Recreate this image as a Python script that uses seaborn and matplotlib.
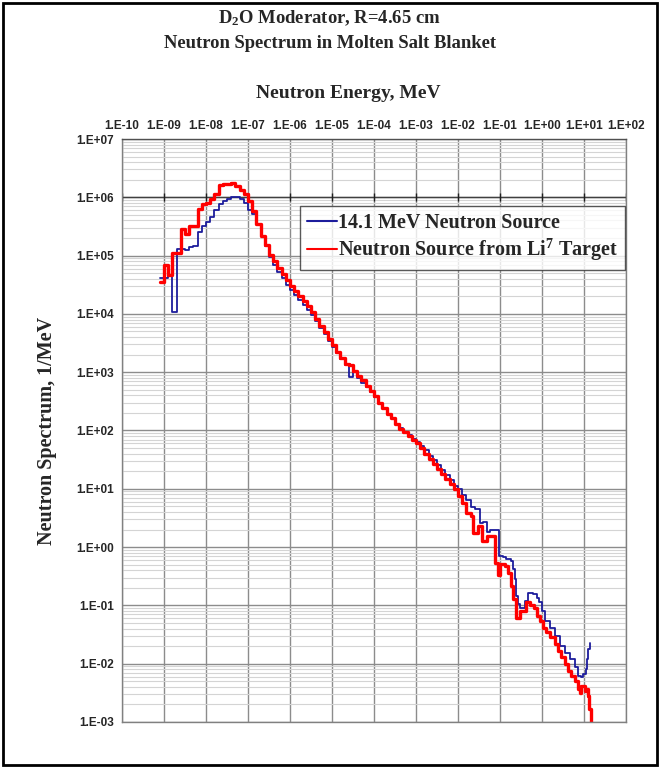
import numpy as np
import pandas as pd
import seaborn as sns
import matplotlib.pyplot as plt
from matplotlib.patches import Rectangle
from matplotlib.ticker import FixedLocator, FixedFormatter, LogLocator, NullLocator

# values: log10(energy, MeV) at bin start, log10(spectrum, 1/MeV)
d14_loge = [-9.10, -9.00, -8.90, -8.80, -8.70, -8.60, -8.50, -8.40, -8.30, -8.20,
            -8.10, -8.00, -7.90, -7.80, -7.70, -7.60, -7.50, -7.40, -7.30, -7.20,
            -7.10, -7.00, -6.90, -6.80, -6.70, -6.60, -6.50, -6.40, -6.30, -6.20,
            -6.10, -6.00, -5.90, -5.80, -5.70, -5.60, -5.50, -5.40, -5.30, -5.20,
            -5.10, -5.00, -4.90, -4.80, -4.70, -4.60, -4.50, -4.40, -4.30, -4.20,
            -4.10, -4.00, -3.90, -3.80, -3.70, -3.60, -3.50, -3.40, -3.30, -3.20,
            -3.10, -3.00, -2.90, -2.80, -2.70, -2.60, -2.50, -2.40, -2.30, -2.20,
            -2.10, -2.00, -1.90, -1.80, -1.70, -1.60, -1.48, -1.40, -1.32, -1.25,
            -1.02, -0.93, -0.85, -0.73, -0.69, -0.65, -0.61, -0.57, -0.53, -0.41,
            -0.33, -0.21, -0.13, -0.07, -0.01, 0.06, 0.18, 0.30, 0.42, 0.54,
            0.66, 0.78, 0.86, 0.94, 0.98, 1.04, 1.07, 1.10, 1.14]
d14_logs = [4.61, 4.61, 4.66, 4.04, 5.11, 5.12, 5.09, 5.15, 5.16, 5.41,
            5.50, 5.58, 5.67, 5.78, 5.88, 5.93, 5.97, 6.00, 6.00, 5.97,
            5.90, 5.78, 5.72, 5.54, 5.34, 5.16, 4.98, 4.84, 4.72, 4.62,
            4.50, 4.41, 4.33, 4.23, 4.15, 4.06, 3.98, 3.88, 3.76, 3.65,
            3.54, 3.43, 3.33, 3.23, 3.12, 2.92, 3.00, 2.90, 2.82, 2.75,
            2.66, 2.57, 2.47, 2.38, 2.29, 2.21, 2.12, 2.04, 1.98, 1.92,
            1.86, 1.81, 1.74, 1.66, 1.57, 1.49, 1.41, 1.32, 1.24, 1.15,
            1.05, 0.99, 0.90, 0.80, 0.68, 0.65, 0.42, 0.43, 0.26, 0.30,
            -0.15, -0.17, -0.20, -0.24, -0.38, -0.55, -0.84, -0.98, -1.04, -0.92,
            -0.78, -0.80, -0.87, -0.95, -1.09, -1.27, -1.38, -1.52, -1.69, -1.81,
            -1.92, -2.06, -2.21, -2.23, -2.18, -2.09, -1.92, -1.75, -1.64]

li7_loge = [-9.10, -9.00, -8.90, -8.80, -8.70, -8.60, -8.50, -8.40, -8.30, -8.20,
            -8.10, -8.00, -7.90, -7.80, -7.70, -7.60, -7.50, -7.40, -7.30, -7.20,
            -7.10, -7.00, -6.90, -6.80, -6.70, -6.60, -6.50, -6.40, -6.30, -6.20,
            -6.10, -6.00, -5.90, -5.80, -5.70, -5.60, -5.50, -5.40, -5.30, -5.20,
            -5.10, -5.00, -4.90, -4.80, -4.70, -4.60, -4.50, -4.40, -4.30, -4.20,
            -4.10, -4.00, -3.90, -3.80, -3.70, -3.60, -3.50, -3.40, -3.30, -3.20,
            -3.10, -3.00, -2.90, -2.80, -2.70, -2.60, -2.50, -2.40, -2.30, -2.20,
            -2.10, -2.00, -1.90, -1.80, -1.70, -1.64, -1.52, -1.44, -1.32, -1.13,
            -1.05, -0.99, -0.89, -0.81, -0.73, -0.69, -0.63, -0.53, -0.37, -0.28,
            -0.20, -0.13, -0.05, 0.02, 0.10, 0.18, 0.30, 0.38, 0.46, 0.54,
            0.62, 0.70, 0.78, 0.86, 0.90, 0.94, 1.02, 1.06, 1.10, 1.13,
            1.17, 1.20]
li7_logs = [4.55, 4.84, 4.66, 5.04, 5.04, 5.45, 5.37, 5.50, 5.51, 5.80,
            5.88, 5.91, 5.97, 6.05, 6.21, 6.23, 6.23, 6.25, 6.20, 6.13,
            6.05, 5.93, 5.76, 5.54, 5.34, 5.18, 5.01, 4.90, 4.79, 4.69,
            4.58, 4.47, 4.39, 4.30, 4.22, 4.13, 4.04, 3.92, 3.80, 3.69,
            3.57, 3.46, 3.35, 3.25, 3.14, 3.13, 3.02, 2.93, 2.86, 2.77,
            2.68, 2.59, 2.48, 2.38, 2.29, 2.21, 2.12, 2.03, 1.98, 1.90,
            1.84, 1.79, 1.70, 1.60, 1.51, 1.42, 1.34, 1.25, 1.16, 1.08,
            1.00, 0.88, 0.75, 0.59, 0.53, 0.25, 0.36, 0.10, 0.19, -0.27,
            -0.47, -0.29, -0.32, -0.44, -0.67, -0.89, -1.21, -1.09, -0.95, -1.00,
            -1.05, -1.18, -1.27, -1.38, -1.45, -1.55, -1.66, -1.78, -1.89, -2.01,
            -2.12, -2.21, -2.29, -2.44, -2.50, -2.38, -2.46, -2.44, -2.55, -2.78,
            -3.05, -3.05]

series_names = ["14.1 MeV Neutron Source", "Neutron Source from Li$^{7}$ Target"]
x_exps = list(range(-10, 3))
y_exps = list(range(-3, 8))

df = pd.concat([
    pd.DataFrame({"energy": np.power(10.0, d14_loge), "spectrum": np.power(10.0, d14_logs),
                  "source": series_names[0]}),
    pd.DataFrame({"energy": np.power(10.0, li7_loge), "spectrum": np.power(10.0, li7_logs),
                  "source": series_names[1]}),
])

sns.set_theme(style="white")
plt.rcParams["font.family"] = ["Liberation Serif", "DejaVu Serif"]
plt.rcParams["mathtext.default"] = "regular"

fig = plt.figure(figsize=(6.61, 7.67), dpi=100)
ax = fig.add_axes([122 / 661, 1 - 722 / 767, 504 / 661, 583 / 767])

sns.lineplot(data=df[df.source == series_names[0]], x="energy", y="spectrum",
             color="#1c1c9c", linewidth=1.3, drawstyle="steps-post",
             estimator=None, sort=False, ax=ax, label=series_names[0])
sns.lineplot(data=df[df.source == series_names[1]], x="energy", y="spectrum",
             color="#ff0000", linewidth=2.4, drawstyle="steps-post",
             estimator=None, sort=False, ax=ax, label=series_names[1])

ax.set_xscale("log")
ax.set_yscale("log")
ax.set_xlim(1e-10, 1e2)
ax.set_ylim(1e-3, 1e7)

xt = [10.0 ** e for e in x_exps]
yt = [10.0 ** e for e in y_exps]
ax.xaxis.set_major_locator(FixedLocator(xt))
ax.xaxis.set_major_formatter(FixedFormatter([f"1.E{e:+03d}" for e in x_exps]))
ax.xaxis.set_minor_locator(NullLocator())
ax.yaxis.set_major_locator(FixedLocator(yt))
ax.yaxis.set_major_formatter(FixedFormatter([f"1.E{e:+03d}" for e in y_exps]))
ax.yaxis.set_minor_locator(LogLocator(base=10, subs=np.arange(2, 10), numticks=30))

ax.xaxis.tick_top()
ax.tick_params(axis="x", which="major", length=0, pad=5)
ax.tick_params(axis="y", which="major", length=4, direction="out", color="#606060", pad=2)
ax.tick_params(axis="y", which="minor", length=0)
tick_font = dict(family=["Liberation Sans Narrow", "Liberation Sans"], weight="bold", size=8.5)
for lab in ax.get_xticklabels() + ax.get_yticklabels():
    lab.set_fontproperties(tick_font)

ax.grid(True, which="major", axis="both", color="#8c8c8c", linewidth=1.0)
ax.grid(True, which="minor", axis="y", color="#d4d4d4", linewidth=0.8)
ax.set_axisbelow(True)
for s in ax.spines.values():
    s.set_color("#808080")
    s.set_linewidth(1.0)
ax.spines["top"].set_color("#505050")

# x axis crosses at 1E+06 in the original chart
ax.axhline(1e6, color="#404040", linewidth=1.0, zorder=1)
ax.plot(xt, [1e6] * len(xt), ls="none", marker="|", ms=6, mew=1.0, color="#202020", zorder=1)

ax.set_xlabel("")
ax.set_ylabel("Neutron Spectrum, 1/MeV", fontsize=14.5, fontweight="bold")
ax.yaxis.set_label_coords(-65 / 504, 0.5)

leg = ax.legend(loc="upper right", bbox_to_anchor=(0.998, 0.885), frameon=True, fancybox=False,
                prop=dict(family="Liberation Serif", weight="bold", size=14.5),
                handlelength=1.5, handletextpad=0.05, borderpad=0.35, labelspacing=0.2,
                borderaxespad=0.0)
leg.get_frame().set_edgecolor("#303030")
leg.get_frame().set_linewidth(1.0)
for line in leg.get_lines():
    line.set_linewidth(1.5)

fig.text(0.499, 1 - 18 / 767, "D$_2$O Moderator, R=4.65 cm", ha="center", va="center",
         fontsize=13.4, fontweight="bold")
fig.text(0.499, 1 - 43 / 767, "Neutron Spectrum in Molten Salt Blanket", ha="center", va="center",
         fontsize=13.4, fontweight="bold")
fig.text(348 / 661, 1 - 94 / 767, "Neutron Energy, MeV", ha="center", va="center",
         fontsize=14, fontweight="bold")

fig.patches.append(Rectangle((3 / 661, 2 / 767), 654 / 661, 762 / 767, transform=fig.transFigure,
                             fill=False, edgecolor="black", linewidth=2.0))

fig.savefig("out.png", dpi=100)
